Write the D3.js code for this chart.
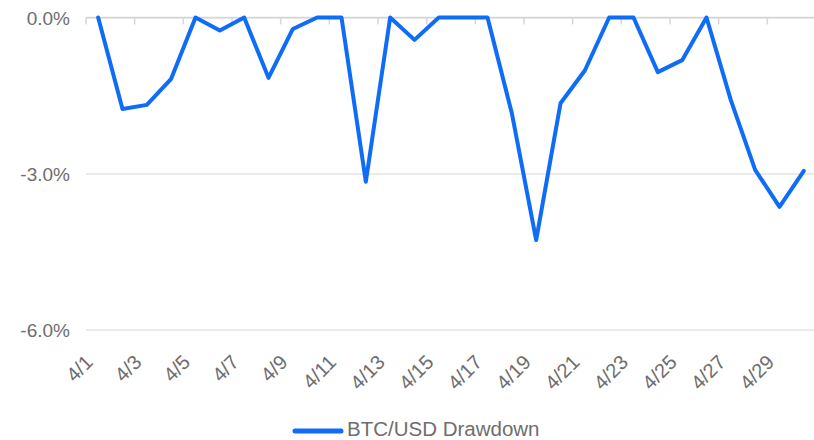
<!DOCTYPE html>
<html>
<head>
<meta charset="utf-8">
<script src="https://cdn.jsdelivr.net/npm/d3@7"></script>
<style>
  html, body { margin: 0; padding: 0; background: #fff; }
  svg { display: block; font-family: "Liberation Sans", Arial, sans-serif; }
</style>
</head>
<body>
<svg id="chart" width="814" height="440"></svg>
<script>
const dates = ["4/1","4/2","4/3","4/4","4/5","4/6","4/7","4/8","4/9","4/10",
               "4/11","4/12","4/13","4/14","4/15","4/16","4/17","4/18","4/19","4/20",
               "4/21","4/22","4/23","4/24","4/25","4/26","4/27","4/28","4/29","4/30"];
const drawdown = [0, -1.76, -1.68, -1.18, 0, -0.25, 0, -1.16, -0.22, 0,
                  0, -3.16, 0, -0.43, 0, 0, 0, -1.84, -4.28, -1.65,
                  -1.02, 0, 0, -1.05, -0.82, 0, -1.59, -2.93, -3.64, -2.95];
const yTicks = [0, -3, -6];
const seriesName = "BTC/USD Drawdown";

(function () {
const svg = d3.select("#chart");
const mLeft = 86, mRight = 816, mTop = 17.5, mBottom = 329.5;
const blue = "#0f6cf7";

const x = d3.scaleBand().domain(dates).range([mLeft, mRight]).padding(0);
const y = d3.scaleLinear().domain([-6, 0]).range([mBottom, mTop]);

// gridlines
const yAxis = d3.axisLeft(y).tickValues(yTicks).tickSize(-(mRight - mLeft))
  .tickFormat(d => (d === 0 ? "0.0" : d3.format(".1f")(d).replace("−", "-")) + "%");
const gy = svg.append("g").attr("transform", `translate(${mLeft},0)`).call(yAxis);
gy.select(".domain").remove();
gy.selectAll(".tick line").attr("stroke", "#e3e3e3").attr("stroke-width", 1.5);
gy.selectAll(".tick text").attr("x", -16).attr("fill", "#6e6e6e")
  .attr("font-size", 19).attr("dy", "0.35em");

// x axis line on zero with ticks every other band
const tickDates = dates.filter((d, i) => i % 2 === 0);
const xAxisTop = d3.axisBottom(x).tickValues(tickDates).tickSize(7).tickFormat("");
const gx = svg.append("g").attr("transform", `translate(${-x.bandwidth()/2},${y(0)})`).call(xAxisTop);
gx.select(".domain").remove();
gx.selectAll(".tick line").attr("stroke", "#d6d6d6").attr("stroke-width", 1.5);
svg.append("line").attr("x1", mLeft).attr("x2", mRight).attr("y1", y(0)).attr("y2", y(0))
  .attr("stroke", "#d6d6d6").attr("stroke-width", 1.5);

// x labels at bottom, rotated
svg.append("g").selectAll("text").data(tickDates).join("text")
  .attr("transform", d => `translate(${x(d) + x.bandwidth()/2 - 9},${mBottom + 29}) rotate(-45)`)
  .attr("text-anchor", "end").attr("dy", "0.35em")
  .attr("font-size", 20).attr("fill", "#6e6e6e").text(d => d);

// line
const line = d3.line()
  .x((d, i) => x(dates[i]) + x.bandwidth() / 2)
  .y(d => y(d));
svg.append("path").datum(drawdown).attr("d", line)
  .attr("fill", "none").attr("stroke", blue).attr("stroke-width", 4)
  .attr("stroke-linejoin", "round").attr("stroke-linecap", "round");

// legend
const lg = svg.append("g");
lg.append("line").attr("x1", 295).attr("x2", 341).attr("y1", 431).attr("y2", 431)
  .attr("stroke", blue).attr("stroke-width", 5).attr("stroke-linecap", "round");
lg.append("text").attr("x", 347).attr("y", 436).attr("font-size", 20.5)
  .attr("fill", "#6e6e6e").text(seriesName);
})();
</script>
</body>
</html>
